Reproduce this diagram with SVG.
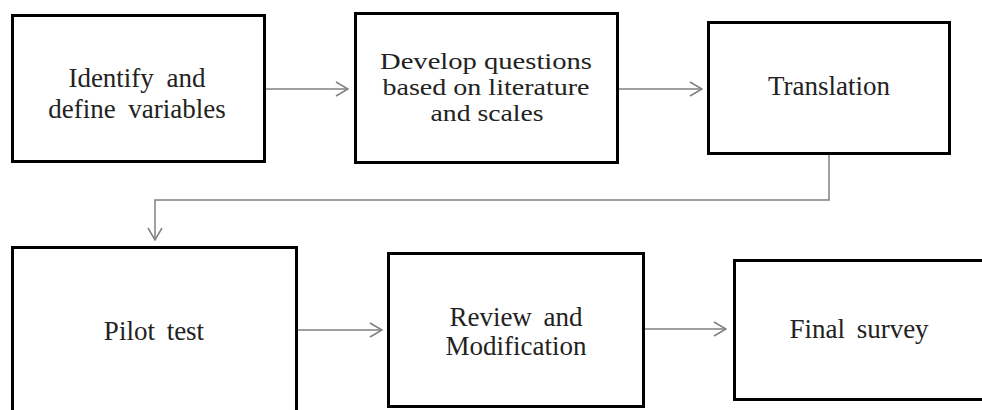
<svg xmlns="http://www.w3.org/2000/svg" width="982" height="410" viewBox="0 0 982 410">
<style>
.box{fill:#fff;stroke:#000;stroke-width:3}
text{font-family:'Liberation Serif','Times New Roman',Times,serif;font-size:27px;fill:#222;text-anchor:middle}
.conn{fill:none;stroke:#808080;stroke-width:1.5}
</style>
<defs>
<marker id="arr" viewBox="0 0 14 16" refX="13" refY="8" markerWidth="14" markerHeight="16" markerUnits="userSpaceOnUse" orient="auto">
<path d="M1,1 L13,8 L1,15" fill="none" stroke="#808080" stroke-width="1.5"/>
</marker>
</defs>
<rect width="982" height="410" fill="#fff"/>
<g id="connectors">
<line class="conn" x1="266" y1="89" x2="348" y2="89" marker-end="url(#arr)"/>
<line class="conn" x1="619" y1="89" x2="702" y2="89" marker-end="url(#arr)"/>
<path class="conn" d="M829,155 V200 H155 V240" marker-end="url(#arr)"/>
<line class="conn" x1="298" y1="330" x2="382" y2="330" marker-end="url(#arr)"/>
<line class="conn" x1="645" y1="329" x2="726" y2="329" marker-end="url(#arr)"/>
</g>
<g id="n1">
<rect class="box" x="12.5" y="15.5" width="252" height="146"/>
<text x="137" y="87" word-spacing="6">Identify and</text>
<text x="137" y="118" word-spacing="6">define variables</text>
</g>
<g id="n2">
<rect class="box" x="355.5" y="13.5" width="262" height="149"/>
<text x="486" y="69" style="font-size:24px" textLength="212" lengthAdjust="spacingAndGlyphs">Develop questions</text>
<text x="486" y="95" style="font-size:24px" textLength="207" lengthAdjust="spacingAndGlyphs">based on literature</text>
<text x="487" y="121" style="font-size:24px" textLength="113" lengthAdjust="spacingAndGlyphs">and scales</text>
</g>
<g id="n3">
<rect class="box" x="708.5" y="22.5" width="241" height="131"/>
<text x="829" y="95">Translation</text>
</g>
<g id="n4">
<rect class="box" x="12.5" y="247.5" width="284" height="172"/>
<text x="154" y="340" word-spacing="5">Pilot test</text>
</g>
<g id="n5">
<rect class="box" x="388.5" y="253.5" width="255" height="153"/>
<text x="516" y="326" word-spacing="5">Review and</text>
<text x="516" y="355">Modification</text>
</g>
<g id="n6">
<rect class="box" x="734.5" y="260.5" width="260" height="139"/>
<text x="859" y="338" word-spacing="5">Final survey</text>
</g>
</svg>
